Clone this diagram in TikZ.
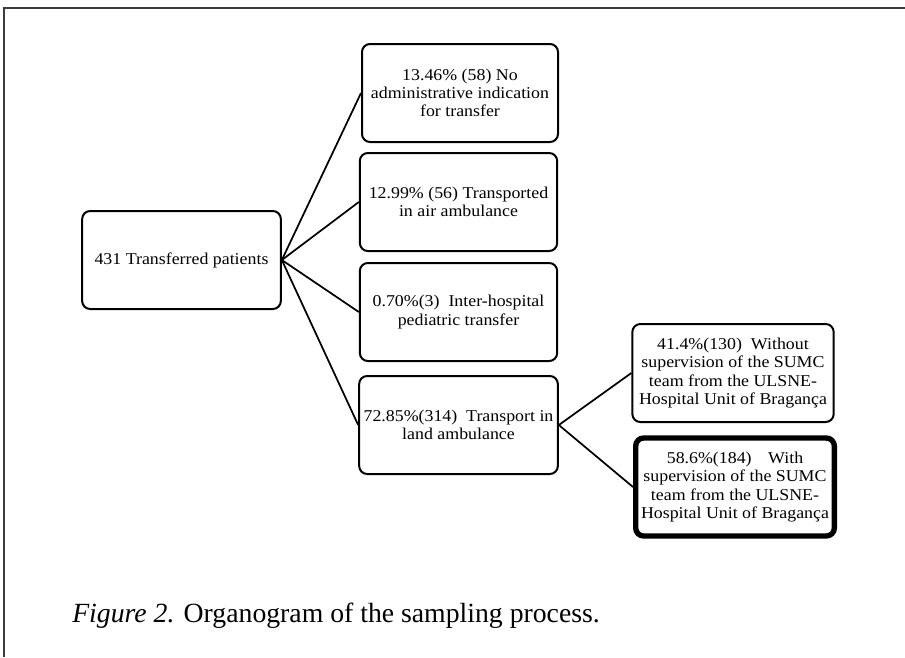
\documentclass[tikz,border=0pt]{standalone}
\usepackage{fontspec}
\setmainfont{Liberation Serif}
\newfontfamily\boxfont{Liberation Serif}[FakeStretch=1.08]
\usepackage{xcolor}

\tikzset{
  orgbox/.style={draw, line width=1.5pt, rounded corners=6pt, fill=white,
    minimum width=148pt, minimum height=73.5pt, inner sep=0pt, align=center,
    font=\boxfont\fontsize{12.4}{13.6}\selectfont},
  orglink/.style={line width=1.3pt},
}

\begin{document}
\begin{tikzpicture}[x=0.75pt,y=0.75pt,yscale=-1,xscale=1]
    %set diagram to 905 x 657
    \useasboundingbox (0,0) rectangle (905,657);

    %Frame
    \draw [color={rgb, 255:red, 60; green, 60; blue, 60 }, line width=1.3pt] (4,657) -- (4,8) -- (905,8) ;

    % Root Node
    \node [orgbox, minimum width=149pt] (root) at (181.5,260) {431 Transferred patients};
    % Text Node
    \node [orgbox, minimum width=147pt] (adm) at (460,93) {13.46\% (58) No\\administrative indication\\for transfer};
    % Text Node
    \node [orgbox] (air) at (458.5,202) {12.99\% (56) Transported\\in air ambulance};
    % Text Node
    \node [orgbox] (ped) at (458.5,312) {0.70\%(3)\ \ Inter-hospital\\pediatric transfer};
    % Text Node
    \node [orgbox, minimum width=149pt] (land) at (458.5,425) {72.85\%(314)\ \ Transport in\\land ambulance};
    % Text Node
    \node [orgbox, minimum width=151pt] (wout) at (733,373) {41.4\%(130)\ \ Without\\supervision of the SUMC\\team from the ULSNE-\\Hospital Unit of Bragança};
    % Text Node
    \node [orgbox, line width=4pt, minimum width=149pt] (with) at (735,487) {58.6\%(184)\quad With\\supervision of the SUMC\\team from the ULSNE-\\Hospital Unit of Bragança};

    %Straight Lines
    \draw [orglink] (root.east) -- (adm.west) ;
    \draw [orglink] (root.east) -- (air.west) ;
    \draw [orglink] (root.east) -- (ped.west) ;
    \draw [orglink] (root.east) -- (land.west) ;
    \draw [orglink] (land.east) -- (wout.west) ;
    \draw [orglink] (land.east) -- (with.west) ;

    % Caption
    \node [anchor=base west, inner sep=0pt, font=\fontsize{20.8}{24}\selectfont] (caption) at (72,622) {\textit{Figure 2.} Organogram of the sampling process.};
\end{tikzpicture}
\end{document}
